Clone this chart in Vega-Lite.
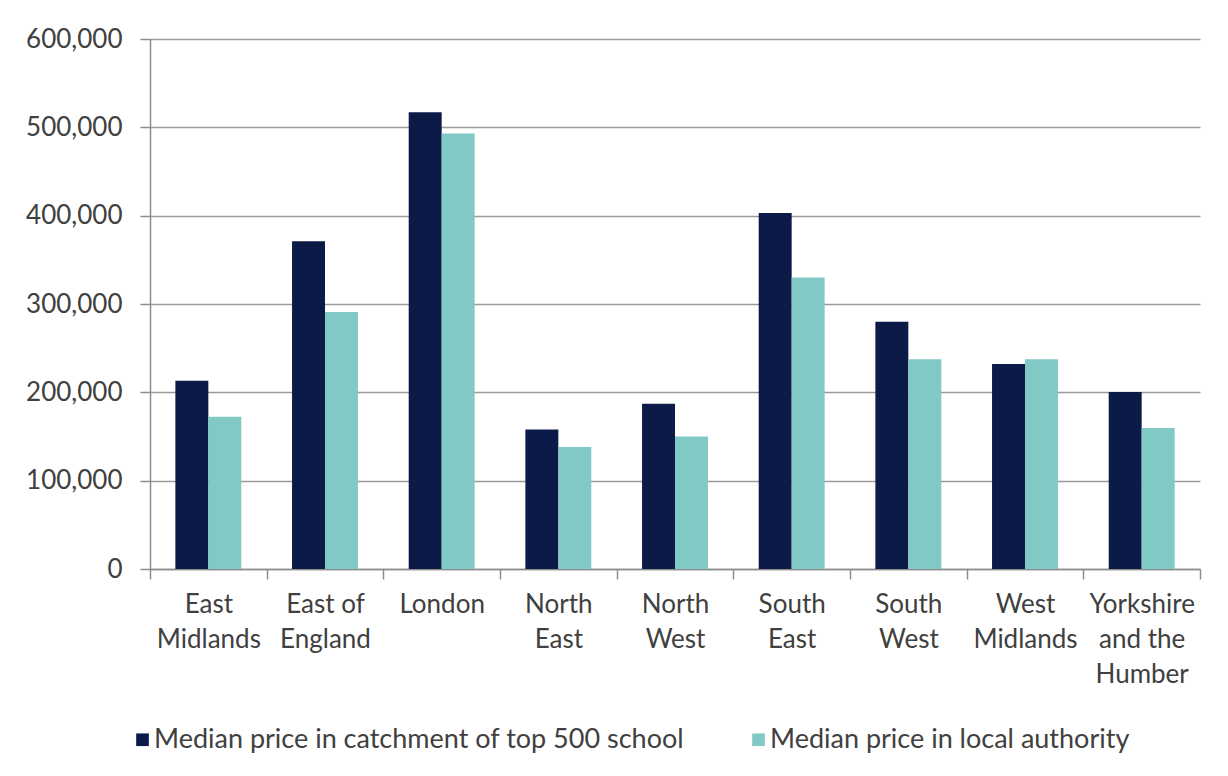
{
  "$schema": "https://vega.github.io/schema/vega-lite/v6.json",
  "width": 1050,
  "height": 530,
  "autosize": {"type": "none"},
  "padding": {"left": 150, "top": 39, "right": 28, "bottom": 207},
  "background": "white",
  "config": {
    "font": "Lato",
    "view": {"stroke": null}
  },
  "data": {
    "values": [
      {"region": "East Midlands", "series": "Median price in catchment of top 500 school", "price": 213000},
      {"region": "East Midlands", "series": "Median price in local authority", "price": 172500},
      {"region": "East of England", "series": "Median price in catchment of top 500 school", "price": 371000},
      {"region": "East of England", "series": "Median price in local authority", "price": 291000},
      {"region": "London", "series": "Median price in catchment of top 500 school", "price": 517000},
      {"region": "London", "series": "Median price in local authority", "price": 493000},
      {"region": "North East", "series": "Median price in catchment of top 500 school", "price": 158000},
      {"region": "North East", "series": "Median price in local authority", "price": 138000},
      {"region": "North West", "series": "Median price in catchment of top 500 school", "price": 187000},
      {"region": "North West", "series": "Median price in local authority", "price": 150000},
      {"region": "South East", "series": "Median price in catchment of top 500 school", "price": 403000},
      {"region": "South East", "series": "Median price in local authority", "price": 330000},
      {"region": "South West", "series": "Median price in catchment of top 500 school", "price": 280000},
      {"region": "South West", "series": "Median price in local authority", "price": 237500},
      {"region": "West Midlands", "series": "Median price in catchment of top 500 school", "price": 232000},
      {"region": "West Midlands", "series": "Median price in local authority", "price": 237500},
      {"region": "Yorkshire and the Humber", "series": "Median price in catchment of top 500 school", "price": 200500},
      {"region": "Yorkshire and the Humber", "series": "Median price in local authority", "price": 159500}
    ]
  },
  "mark": {"type": "bar"},
  "encoding": {
    "x": {
      "field": "region",
      "type": "nominal",
      "sort": null,
      "scale": {"paddingInner": 0, "paddingOuter": 0},
      "axis": {
        "title": null,
        "labelAngle": 0,
        "labelFontSize": 26,
        "labelColor": "#404040",
        "labelPadding": 12,
        "labelLineHeight": 35,
        "labelBaseline": "top",
        "labelExpr": "datum.label == 'East of England' ? ['East of','England'] : datum.label == 'Yorkshire and the Humber' ? ['Yorkshire','and the','Humber'] : split(datum.label, ' ')",
        "domainColor": "#8c8c8c",
        "domainWidth": 1.5,
        "tickColor": "#8c8c8c",
        "tickWidth": 1.5,
        "tickSize": 10,
        "tickBand": "extent",
        "grid": false
      }
    },
    "xOffset": {
      "field": "series",
      "sort": ["Median price in catchment of top 500 school", "Median price in local authority"],
      "scale": {"paddingInner": 0, "paddingOuter": 0.77}
    },
    "y": {
      "field": "price",
      "type": "quantitative",
      "scale": {"domain": [0, 600000], "nice": false},
      "axis": {
        "title": null,
        "values": [0, 100000, 200000, 300000, 400000, 500000, 600000],
        "format": ",.0f",
        "labelFontSize": 26,
        "labelColor": "#404040",
        "labelPadding": 18,
        "tickSize": 10,
        "tickColor": "#8c8c8c",
        "tickWidth": 1.5,
        "domainColor": "#8c8c8c",
        "domainWidth": 1.5,
        "gridColor": "#9a9a9a",
        "gridWidth": 1.5
      }
    },
    "color": {
      "field": "series",
      "type": "nominal",
      "scale": {
        "domain": ["Median price in catchment of top 500 school", "Median price in local authority"],
        "range": ["#0b1a47", "#80c9c4"]
      },
      "legend": {
        "title": null,
        "orient": "none",
        "direction": "horizontal",
        "legendX": -21,
        "legendY": 687,
        "symbolType": "square",
        "symbolSize": 160,
        "symbolStrokeWidth": 0,
        "labelFontSize": 27,
        "labelColor": "#404040",
        "labelLimit": 700,
        "labelOffset": -2,
        "columnPadding": 60
      }
    }
  }
}
